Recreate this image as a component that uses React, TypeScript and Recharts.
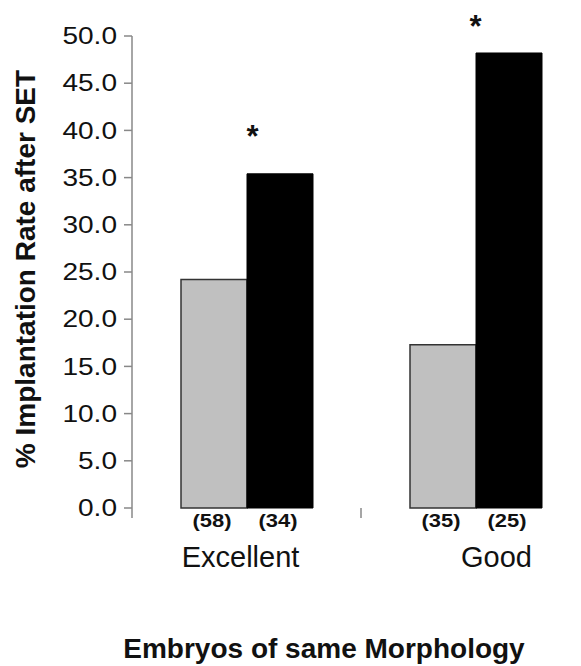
import React from 'react';
import { BarChart, Bar, XAxis, YAxis, LabelList } from 'recharts';

const categories = ['Excellent', 'Good'];
const grayRates = [24.2, 17.3];
const blackRates = [35.4, 48.2];
const grayCounts = [58, 35];
const blackCounts = [34, 25];
const significant = ['*', '*'];
const yTicks = [0, 5, 10, 15, 20, 25, 30, 35, 40, 45, 50];

const data = categories.map((name, i) => ({
    name,
    gray: grayRates[i],
    black: blackRates[i],
    nGray: grayCounts[i],
    nBlack: blackCounts[i],
    sig: significant[i],
}));

const FONT = '"Liberation Sans", Arial, Helvetica, sans-serif';
// small per-category nudges seen in the original figure
const CAT_DX = [-6, 21];
const STAR_OFFSET = [
    { dx: 5.5, dy: -27 },
    { dx: -0.5, dy: -16 },
];

const YTick: React.FC<any> = ({ x, y, payload }) => (
    <g transform={`translate(${x - 7},${y}) scale(1.22,1)`}>
        <text x={0} y={0} dy="0.36em" textAnchor="end" fontSize={23} fontFamily={FONT} fill="#111">
            {Number(payload.value).toFixed(1)}
        </text>
    </g>
);

// category label plus the small boundary ticks between groups
const CatTick: React.FC<any> = ({ x, y, payload, index, visibleTicksCount }) => {
    const half = Number(payload.offset) || 0;
    const last = index === (visibleTicksCount ?? 2) - 1;
    return (
        <g>
            <line x1={x - half} x2={x - half} y1={y} y2={y + 10} stroke="#888" strokeWidth={1.5} />
            {last && <line x1={x + half} x2={x + half} y1={y} y2={y + 10} stroke="#888" strokeWidth={1.5} />}
            <text x={x + (CAT_DX[index] ?? 0)} y={y + 59} textAnchor="middle" fontSize={29} fontFamily={FONT} fill="#111">
                {payload.value}
            </text>
        </g>
    );
};

const countLabel = (props: any) => {
    const { x, y, width, height, value } = props;
    const cx = Number(x) + Number(width) / 2 - 2;
    const base = Number(y) + Number(height) + 19;
    return (
        <g transform={`translate(${cx},${base}) scale(1.22,1)`}>
            <text x={0} y={0} textAnchor="middle" fontSize={18} fontWeight="bold" fontFamily={FONT} fill="#111">
                {`(${value})`}
            </text>
        </g>
    );
};

const starLabel = (props: any) => {
    const { x, y, value, index } = props;
    const off = STAR_OFFSET[index] ?? { dx: 0, dy: -20 };
    return (
        <text x={Number(x) + off.dx} y={Number(y) + off.dy} textAnchor="middle" fontSize={31} fontWeight="bold" fontFamily={FONT} fill="#111">
            {value}
        </text>
    );
};

const App: React.FC = () => {
    return (
        <div style={{ position: 'absolute', left: 0, top: 0, width: 581, height: 666, overflow: 'hidden', background: '#fff' }}>
            <BarChart
                width={600}
                height={666}
                data={data}
                margin={{ top: 36, right: 10, left: 0, bottom: 0 }}
                barGap={0}
            >
                <YAxis
                    type="number"
                    domain={[0, 50]}
                    ticks={yTicks}
                    width={132}
                    tickSize={8}
                    tickMargin={0}
                    stroke="#888"
                    strokeWidth={1.5}
                    tick={<YTick />}
                    interval={0}
                    label={{
                        content: (p: any) => {
                            const vb = p.viewBox || {};
                            const cy = Number(vb.y) + Number(vb.height) / 2 - 3;
                            return (
                                <text
                                    transform={`translate(35,${cy}) rotate(-90)`}
                                    textAnchor="middle"
                                    fontSize={28}
                                    fontWeight="bold"
                                    fontFamily={FONT}
                                    fill="#111"
                                >
                                    % Implantation Rate after SET
                                </text>
                            );
                        },
                    }}
                />
                <XAxis
                    dataKey="name"
                    height={158}
                    axisLine={false}
                    tickLine={false}
                    tickSize={0}
                    tickMargin={0}
                    interval={0}
                    tick={<CatTick />}
                    label={{
                        content: (p: any) => {
                            const vb = p.viewBox || {};
                            return (
                                <text
                                    x={Number(vb.x) + 192}
                                    y={Number(vb.y) + 150}
                                    textAnchor="middle"
                                    fontSize={28}
                                    fontWeight="bold"
                                    fontFamily={FONT}
                                    fill="#111"
                                >
                                    Embryos of same Morphology
                                </text>
                            );
                        },
                    }}
                />
                <Bar dataKey="gray" fill="#c0c0c0" stroke="#333" strokeWidth={1.5} barSize={66} isAnimationActive={false}>
                    <LabelList dataKey="nGray" content={countLabel} />
                </Bar>
                <Bar dataKey="black" fill="#000" stroke="#000" strokeWidth={1} barSize={66} isAnimationActive={false}>
                    <LabelList dataKey="nBlack" content={countLabel} />
                    <LabelList dataKey="sig" content={starLabel} />
                </Bar>
            </BarChart>
        </div>
    );
};

export default App;
